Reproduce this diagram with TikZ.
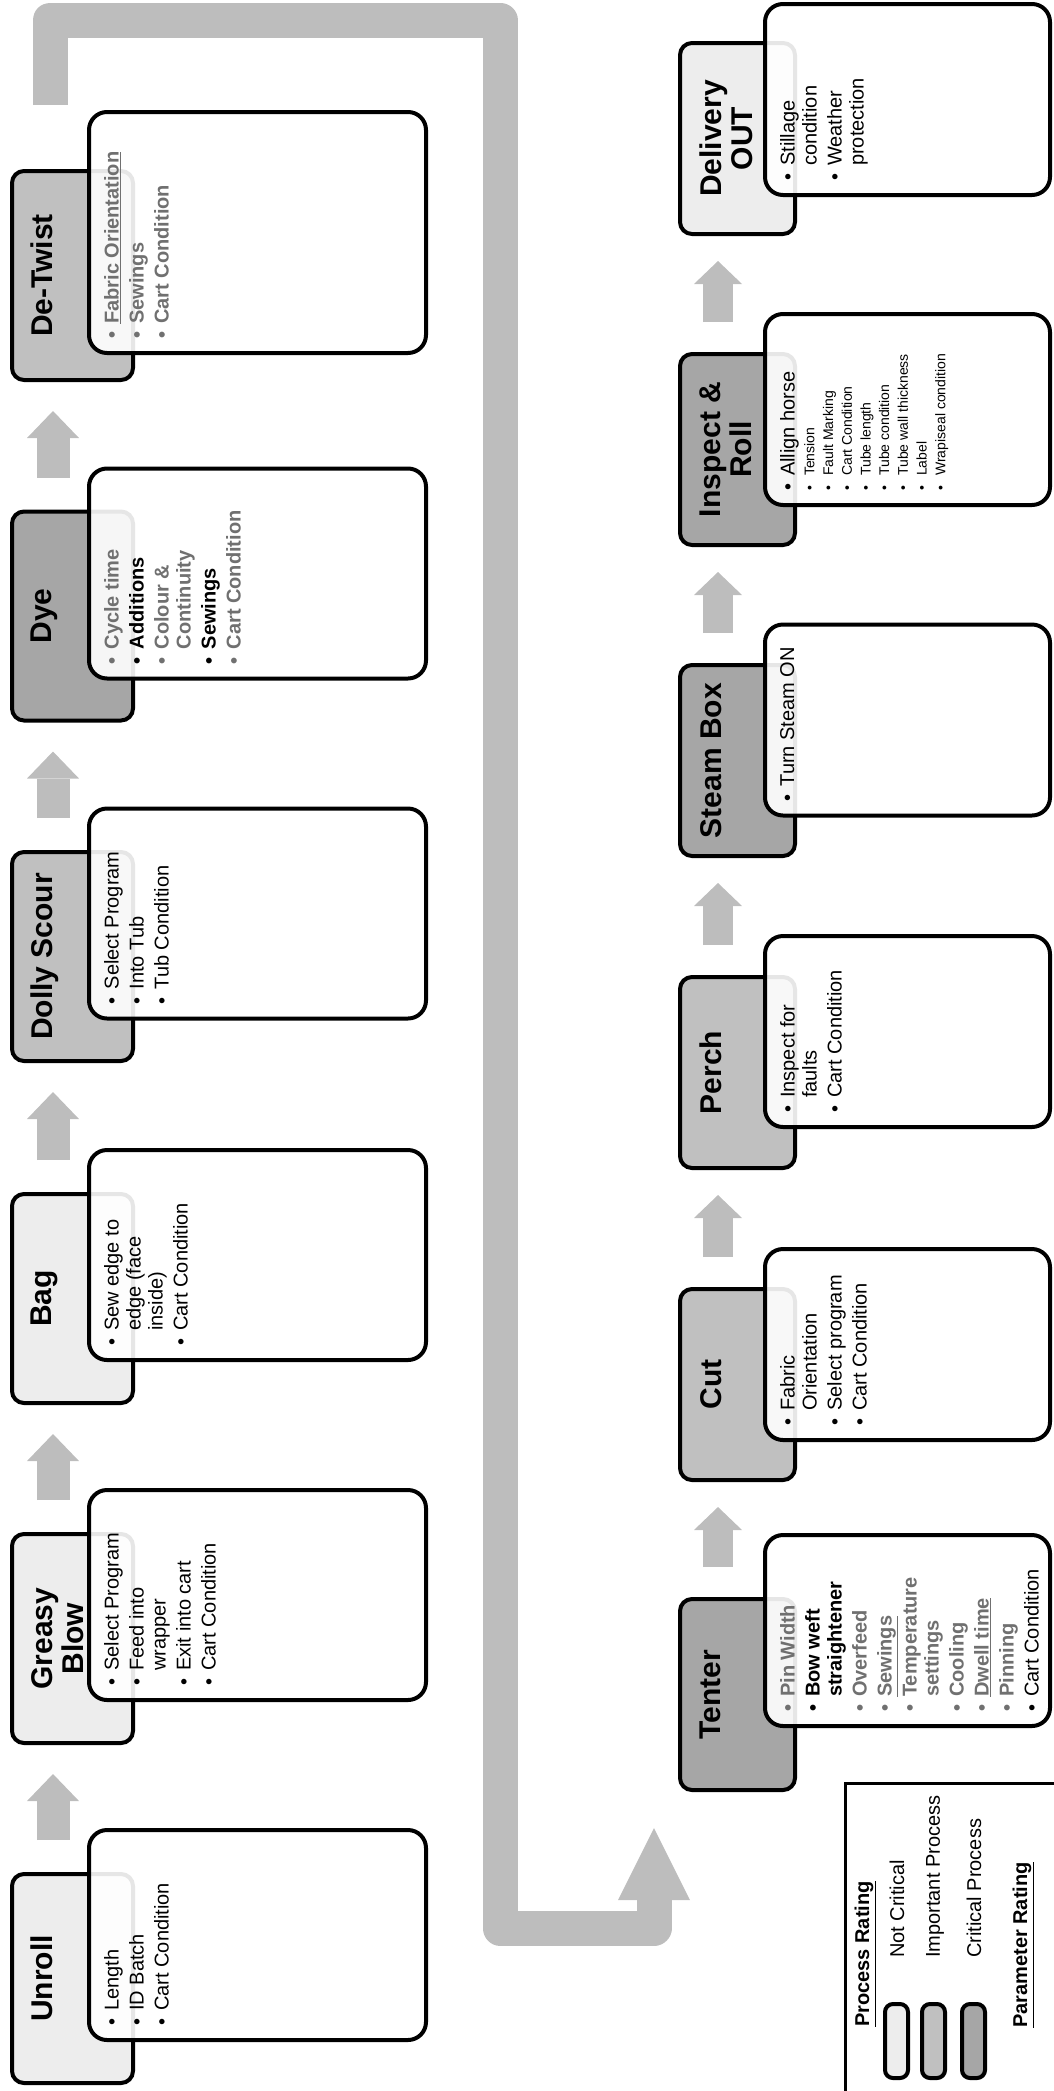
\documentclass[tikz,border=0pt]{standalone}
\usepackage{fontspec}
\setmainfont{Liberation Sans}
\usetikzlibrary{arrows.meta}
\definecolor{lowc}{HTML}{EDEDED}
\definecolor{midc}{HTML}{C0C0C0}
\definecolor{highc}{HTML}{A6A6A6}
\definecolor{flowc}{HTML}{BDBDBD}
\definecolor{pgray}{HTML}{707070}
\newcommand{\bl}{\makebox[15pt][l]{\textbullet}}
\newcommand{\ind}{\hspace*{15pt}}
\newcommand{\gi}[1]{\textcolor{pgray}{\bfseries\bl #1}}
\newcommand{\gc}[1]{\textcolor{pgray}{\bfseries\ind #1}}
\newcommand{\bi}[1]{{\bfseries\bl #1}}
\newcommand{\bc}[1]{{\bfseries\ind #1}}
\tikzset{
  ttlbox/.style={draw=black, line width=4pt, rounded corners=12pt, inner sep=0pt},
  lowbox/.style={ttlbox, fill=lowc},
  midbox/.style={ttlbox, fill=midc},
  highbox/.style={ttlbox, fill=highc},
  lbox/.style={minimum width=121pt, minimum height=209pt},
  rbox/.style={minimum width=115pt, minimum height=191pt},
  detbox/.style={draw=black, line width=4pt, rounded corners=18pt, fill=white, fill opacity=0.9, inner sep=0pt},
  ldet/.style={detbox, minimum width=337pt, minimum height=210pt},
  rdet/.style={detbox, minimum width=285pt, minimum height=191pt},
  ttltxt/.style={rotate=90, anchor=north, align=center, inner sep=0pt, font=\bfseries\fontsize{30pt}{31pt}\selectfont},
  dettxt/.style={rotate=90, anchor=north west, align=left, inner sep=0pt, font=\fontsize{20pt}{22pt}\selectfont},
  flowL/.style={draw=flowc, line width=33pt, -{Triangle[length=27pt,width=52pt,line width=0pt]}},
  flowR/.style={draw=flowc, line width=30pt, -{Triangle[length=23pt,width=48pt,line width=0pt]}},
  bigflow/.style={draw=flowc, line width=35pt, line join=round, -{Triangle[length=72pt,width=72pt,line width=0pt]}},
  lgtxt/.style={rotate=90, anchor=west, inner sep=0pt, font=\fontsize{20pt}{22pt}\selectfont},
  swatch/.style={draw=black, line width=4pt, rounded corners=8pt, minimum width=23pt, minimum height=74pt, inner sep=0pt},
}
\begin{document}
\begin{tikzpicture}[x=1pt, y=-1pt]
\useasboundingbox (0,0) rectangle (1054,2091);
\clip (0,0) rectangle (1054,2091);

% ---------- big U connector ----------
\coordinate (uS) at (50,105);
\coordinate (uE) at (654,1828);
\draw[bigflow] (uS) -- (50,20) -- (500,20) -- (500,1928) -- (654,1928) -- (uE);

% ---------- left column title boxes ----------
\node[lowbox, lbox]  (t1) at (72.5,1978.5) {};
\node[lowbox, lbox]  (t2) at (72.5,1638.5) {};
\node[lowbox, lbox]  (t3) at (72.5,1298.5) {};
\node[midbox, lbox]  (t4) at (72.5,956.5) {};
\node[highbox, lbox] (t5) at (72.5,616) {};
\node[midbox, lbox]  (t6) at (72.5,275.5) {};

\node[ttltxt] (t1x) at ([xshift=21pt]t1.west) {Unroll};
\node[ttltxt] (t2x) at ([xshift=21pt]t2.west) {Greasy\\Blow};
\node[ttltxt] (t3x) at ([xshift=21pt]t3.west) {Bag};
\node[ttltxt] (t4x) at ([xshift=21pt]t4.west) {Dolly Scour};
\node[ttltxt] (t5x) at ([xshift=21pt]t5.west) {Dye};
\node[ttltxt] (t6x) at ([xshift=21pt]t6.west) {De-Twist};

% ---------- right column title boxes ----------
\node[highbox, rbox] (r1) at (737.5,1694.5) {};
\node[midbox, rbox]  (r2) at (737.5,1384.5) {};
\node[midbox, rbox]  (r3) at (737.5,1072.5) {};
\node[highbox, rbox] (r4) at (737.5,760.5) {};
\node[highbox, rbox] (r5) at (737.5,449.5) {};
\node[lowbox, rbox]  (r6) at (737.5,138.5) {};

\node[ttltxt] (r1x) at ([xshift=22pt]r1.west) {Tenter};
\node[ttltxt] (r2x) at ([xshift=22pt]r2.west) {Cut};
\node[ttltxt] (r3x) at ([xshift=22pt]r3.west) {Perch};
\node[ttltxt] (r4x) at ([xshift=22pt]r4.west) {Steam Box};
\node[ttltxt] (r5x) at ([xshift=22pt]r5.west) {Inspect \&\\Roll};
\node[ttltxt] (r6x) at ([xshift=22pt]r6.west) {Delivery\\OUT};

% ---------- detail boxes ----------
\node[ldet] (d1) at (257.5,1935) {};
\node[ldet] (d2) at (257.5,1595) {};
\node[ldet] (d3) at (257.5,1255) {};
\node[ldet] (d4) at (257.5,913.5) {};
\node[ldet] (d5) at (257.5,573.5) {};
\node[ldet, minimum height=241pt] (d6) at (257.5,232.5) {};

\node[rdet] (e1) at (907.5,1630.5) {};
\node[rdet] (e2) at (907.5,1344.5) {};
\node[rdet] (e3) at (907.5,1031.5) {};
\node[rdet] (e4) at (907.5,720) {};
\node[rdet] (e5) at (907.5,409.5) {};
\node[rdet] (e6) at (907.5,99.5) {};

% ---------- detail texts ----------
\node[dettxt] (d1x) at ([xshift=17pt,yshift=16pt]d1.south west)
  {\bl Length\\[3pt]\bl ID Batch\\[3pt]\bl Cart Condition};
\node[dettxt] (d2x) at ([xshift=17pt,yshift=16pt]d2.south west)
  {\bl Select Program\\[3pt]\bl Feed into\\\ind wrapper\\[3pt]\bl Exit into cart\\[3pt]\bl Cart Condition};
\node[dettxt] (d3x) at ([xshift=17pt,yshift=16pt]d3.south west)
  {\bl Sew edge to\\\ind edge (face\\\ind inside)\\[3pt]\bl Cart Condition};
\node[dettxt] (d4x) at ([xshift=17pt,yshift=16pt]d4.south west)
  {\bl Select Program\\[3pt]\bl Into Tub\\[3pt]\bl Tub Condition};
\node[dettxt] (d5x) at ([xshift=17pt,yshift=16pt]d5.south west)
  {\gi{Cycle time}\\[3pt]\bi{Additions}\\[3pt]\gi{Colour \&}\\\gc{Continuity}\\[3pt]\bi{Sewings}\\[3pt]\gi{Cart Condition}};
\node[dettxt] (d6x) at ([xshift=17pt,yshift=16pt]d6.south west)
  {\gi{\underline{Fabric Orientation}}\\[3pt]\gi{Sewings}\\[3pt]\gi{Cart Condition}};

\node[dettxt] (e1x) at ([xshift=17pt,yshift=16pt]e1.south west)
  {\gi{Pin Width}\\[3pt]\bi{Bow weft}\\\bc{straightener}\\[3pt]\gi{Overfeed}\\[3pt]\gi{\underline{Sewings}}\\[3pt]\gi{Temperature}\\\gc{settings}\\[3pt]\gi{Cooling}\\[3pt]\gi{\underline{Dwell time}}\\[3pt]\gi{Pinning}\\[3pt]\bl Cart Condition};
\node[dettxt] (e2x) at ([xshift=17pt,yshift=16pt]e2.south west)
  {\bl Fabric\\\ind Orientation\\[3pt]\bl Select program\\[3pt]\bl Cart Condition};
\node[dettxt] (e3x) at ([xshift=17pt,yshift=16pt]e3.south west)
  {\bl Inspect for\\\ind faults\\[3pt]\bl Cart Condition};
\node[dettxt] (e4x) at ([xshift=17pt,yshift=16pt]e4.south west)
  {\bl Turn Steam ON};
\node[dettxt, font=\fontsize{14pt}{18.7pt}\selectfont] (e5x) at ([xshift=17pt,yshift=16pt]e5.south west)
  {{\fontsize{20pt}{22pt}\selectfont\bl Allign horse}\\[1pt]\bl Tension\\\bl Fault Marking\\\bl Cart Condition\\\bl Tube length\\\bl Tube condition\\\bl Tube wall thickness\\\bl Label\\\bl Wrapiseal condition};
\node[dettxt] (e6x) at ([xshift=17pt,yshift=16pt]e6.south west)
  {\bl Stillage\\\ind condition\\[3pt]\bl Weather\\\ind protection};

% ---------- small flow arrows ----------
\draw[flowL] ([xshift=-19.5pt,yshift=32pt]t1.north) -- ([xshift=-19.5pt,yshift=-29pt]t2.south);
\draw[flowL] ([xshift=-19.5pt,yshift=32pt]t2.north) -- ([xshift=-19.5pt,yshift=-29pt]t3.south);
\draw[flowL] ([xshift=-19.5pt,yshift=32pt]t3.north) -- ([xshift=-19.5pt,yshift=-29pt]t4.south);
\draw[flowL] ([xshift=-19.5pt,yshift=32pt]t4.north) -- ([xshift=-19.5pt,yshift=-29pt]t5.south);
\draw[flowL] ([xshift=-19.5pt,yshift=32pt]t5.north) -- ([xshift=-19.5pt,yshift=-29pt]t6.south);

\draw[flowR] ([xshift=-19.5pt,yshift=30pt]r1.north) -- ([xshift=-19.5pt,yshift=-25pt]r2.south);
\draw[flowR] ([xshift=-19.5pt,yshift=30pt]r2.north) -- ([xshift=-19.5pt,yshift=-25pt]r3.south);
\draw[flowR] ([xshift=-19.5pt,yshift=30pt]r3.north) -- ([xshift=-19.5pt,yshift=-25pt]r4.south);
\draw[flowR] ([xshift=-19.5pt,yshift=30pt]r4.north) -- ([xshift=-19.5pt,yshift=-25pt]r5.south);
\draw[flowR] ([xshift=-19.5pt,yshift=30pt]r5.north) -- ([xshift=-19.5pt,yshift=-25pt]r6.south);

% ---------- legend ----------
\draw[line width=3pt] (845,1783.5) rectangle (1080,2120);
\node[lgtxt] (lg1) at (865,2027) {\underline{\textbf{Process Rating}}};
\node[swatch, fill=lowc]  (sw1) at (896.5,2041) {};
\node[swatch, fill=midc]  (sw2) at (933.5,2041) {};
\node[swatch, fill=highc] (sw3) at (973.5,2041) {};
\node[lgtxt] (lg2) at (897,1958) {Not Critical};
\node[lgtxt] (lg3) at (935,1958) {Important Process};
\node[lgtxt] (lg4) at (974,1958) {Critical Process};
\node[lgtxt] (lg5) at (1023,2028) {\underline{\textbf{Parameter Rating}}};
\end{tikzpicture}
\end{document}
